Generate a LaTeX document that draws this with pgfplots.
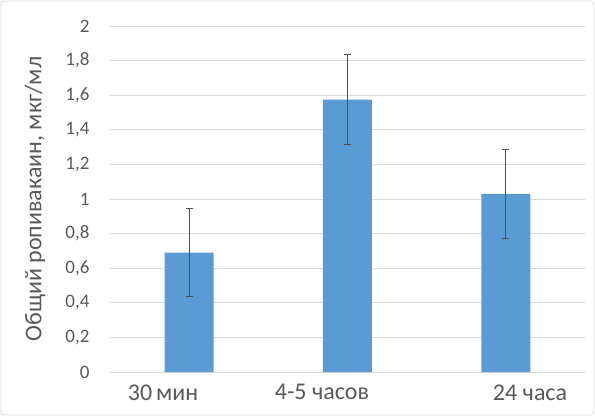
\documentclass[border=0pt]{standalone}
\usepackage{pgfplots}
\pgfplotsset{compat=1.18}
\usepackage{fontspec}
\setmainfont{Carlito}
\definecolor{barblue}{HTML}{5B9BD5}
\definecolor{gridgray}{HTML}{D9D9D9}
\definecolor{txtgray}{HTML}{595959}
\definecolor{errgray}{HTML}{505050}
\begin{document}
\begin{tikzpicture}
	\begin{axis}[
		scale only axis,
		width=475pt, height=346pt,
		xmin=-0.5, xmax=2.5,
		ymin=0, ymax=2,
		ytick={0,0.2,...,2},
		/pgf/number format/.cd, use comma, assume math mode=true,
		/pgfplots/.cd,
		yticklabel={\fontsize{19}{22}\selectfont\pgfmathprintnumber{\tick}},
		xtick={-0.165,0.839,2.153},
		xticklabels={30\,мин, 4-5 часов, 24 часа},
		major tick length=0pt,
		axis line style={draw=none},
		ymajorgrids,
		grid style={gridgray, line width=0.8pt},
		y tick label style={text=txtgray, xshift=-17pt},
		xticklabel style={font=\fontsize{24}{28}\selectfont, text=txtgray, yshift=-9pt},
		ylabel={Общий ропивакаин, мкг/мл},
		every axis y label/.style={at={(rel axis cs:0,0.5)}, xshift=-75pt, rotate=90,
			anchor=center, font=\fontsize{24}{28}\selectfont, text=txtgray},
		clip=false,
	]
		\addplot[ybar, bar width=49pt, fill=barblue, draw=none,
			error bars/.cd, y dir=both, y explicit,
			error bar style={errgray, line width=0.9pt},
			error mark options={rotate=90, mark size=3.5pt, line width=0.9pt, errgray}]
		coordinates {(0,0.69) +- (0,0.255) (1,1.575) +- (0,0.258) (2,1.03) +- (0,0.258)};
	\end{axis}
	\pgfresetboundingbox
	\draw[gridgray, line width=0.8pt, rounded corners=4pt]
		([shift={(-109pt,-43pt)}]current axis.south west) rectangle
		([shift={(484pt,371pt)}]current axis.south west);
	\pgfresetboundingbox
	\path[use as bounding box] ([shift={(-110pt,-44pt)}]current axis.south west) rectangle
		([shift={(485pt,372pt)}]current axis.south west);
\end{tikzpicture}
\end{document}
